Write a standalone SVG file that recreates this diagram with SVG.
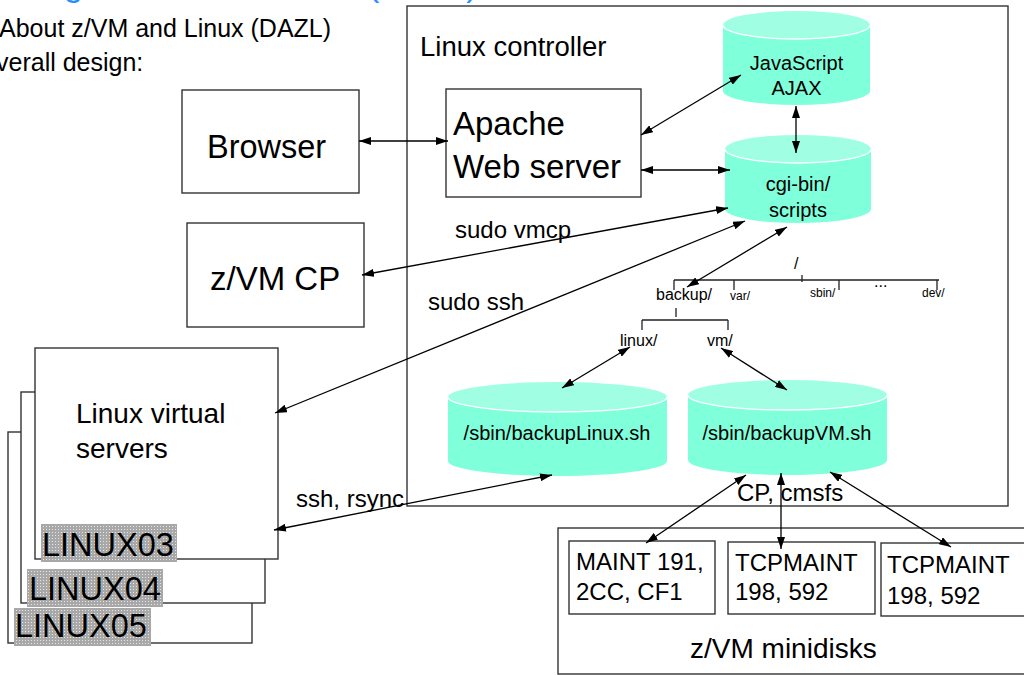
<svg xmlns="http://www.w3.org/2000/svg" width="1024" height="675" viewBox="0 0 1024 675">
<defs>
<style>
text{font-family:"Liberation Sans",Arial,Helvetica,sans-serif;fill:#000}
.box{fill:#fff;stroke:#333;stroke-width:1.4}
.frame{fill:none;stroke:#333;stroke-width:1.4}
.body{fill:#80ffdb}
.lid{fill:#a0ffe2}
.seam{fill:none;stroke:#fff;stroke-width:1.3}
.tree{fill:none;stroke:#222;stroke-width:1.3}
.conn{fill:none;stroke:#000;stroke-width:1.3;marker-start:url(#ah);marker-end:url(#ah)}
.mid{text-anchor:middle}
</style>
<marker id="ah" viewBox="0 0 12 8" refX="12" refY="4" markerWidth="12" markerHeight="8" markerUnits="userSpaceOnUse" orient="auto-start-reverse">
<path d="M0,0 L12,4 L0,8 z" fill="#000"/>
</marker>
<pattern id="dots" width="3" height="3" patternUnits="userSpaceOnUse">
<rect width="3" height="3" fill="#a8a8a8"/>
<rect x="1" y="1" width="1" height="1" fill="#e6e6e6"/>
</pattern>
</defs>

<g id="title">
<text y="-4" font-size="34" style="fill:#2a8cff"><tspan x="-4">Design overview</tspan><tspan x="368">(DAZL)</tspan></text>
<text x="-1" y="37" font-size="25">About z/VM and Linux (DAZL)</text>
<text x="-4" y="71" font-size="25">verall design:</text>
</g>

<g id="linux-controller">
<rect class="frame" x="407" y="6" width="601" height="500"/>
<text x="420" y="56" font-size="27.5">Linux controller</text>
</g>

<g id="browser">
<rect class="box" x="182" y="90" width="177" height="103"/>
<text x="207" y="158" font-size="32.5">Browser</text>
</g>

<g id="zvm-cp">
<rect class="box" x="187" y="223" width="177" height="104"/>
<text x="210" y="290" font-size="33">z/VM CP</text>
</g>

<g id="apache">
<rect class="box" x="446" y="89" width="195" height="108"/>
<text x="453" y="135" font-size="33">Apache</text>
<text x="453" y="178" font-size="33">Web server</text>
</g>

<g id="javascript-ajax">
<path class="body" d="M723,25 L723,91 A73.5,14 0 0 0 870,91 L870,25 Z"/>
<ellipse class="lid" cx="796.5" cy="25" rx="73.5" ry="14"/>
<path class="seam" d="M723,25 A73.5,14 0 0 0 870,25"/>
<text class="mid" x="796.5" y="70" font-size="20">JavaScript</text>
<text class="mid" x="796.5" y="95" font-size="20">AJAX</text>
</g>

<g id="cgi-bin">
<path class="body" d="M725,149 L725,209 A73,14 0 0 0 871,209 L871,149 Z"/>
<ellipse class="lid" cx="798" cy="149" rx="73" ry="14"/>
<path class="seam" d="M725,149 A73,14 0 0 0 871,149"/>
<text class="mid" x="798" y="191" font-size="20">cgi-bin/</text>
<text class="mid" x="798" y="217" font-size="20">scripts</text>
</g>

<g id="backup-linux">
<path class="body" d="M448,397 L448,461 A109.5,15 0 0 0 667,461 L667,397 Z"/>
<ellipse class="lid" cx="557.5" cy="397" rx="109.5" ry="15"/>
<path class="seam" d="M448,397 A109.5,15 0 0 0 667,397"/>
<text class="mid" x="557" y="440" font-size="20">/sbin/backupLinux.sh</text>
</g>

<g id="backup-vm">
<path class="body" d="M688,395 L688,460 A99.5,15 0 0 0 887,460 L887,395 Z"/>
<ellipse class="lid" cx="787.5" cy="395" rx="99.5" ry="15"/>
<path class="seam" d="M688,395 A99.5,15 0 0 0 887,395"/>
<text class="mid" x="787" y="440" font-size="20">/sbin/backupVM.sh</text>
</g>

<g id="filesystem-tree">
<path class="tree" d="M674,280 H939 M674,280 V290 M734,280 V290 M839,280 V290 M937,280 V290 M802,275 V282 M676,308 V317 M642,320 H728 M642,320 V330 M728,320 V330"/>
<text x="794" y="269" font-size="16">/</text>
<text x="656" y="300" font-size="16">backup/</text>
<text x="730" y="300" font-size="12">var/</text>
<text x="810" y="297" font-size="12">sbin/</text>
<text x="874" y="287" font-size="16">...</text>
<text x="922" y="297" font-size="12">dev/</text>
<text x="620" y="346" font-size="16">linux/</text>
<text x="707" y="346" font-size="16">vm/</text>
</g>

<g id="linux-virtual-servers">
<rect class="box" x="8" y="432" width="244" height="211"/>
<rect class="box" x="21" y="392" width="244" height="211"/>
<rect class="box" x="35" y="348" width="243" height="211"/>
<text x="76" y="423" font-size="28">Linux virtual</text>
<text x="76" y="458" font-size="28">servers</text>
<rect x="41" y="524" width="136" height="38" fill="url(#dots)"/>
<text x="42" y="556" font-size="32.5">LINUX03</text>
<rect x="27" y="569" width="136" height="38" fill="url(#dots)"/>
<text x="29" y="600" font-size="32.5">LINUX04</text>
<rect x="14" y="608" width="137" height="38" fill="url(#dots)"/>
<text x="15" y="637" font-size="32.5">LINUX05</text>
</g>

<g id="zvm-minidisks">
<rect class="box" x="558" y="528" width="480" height="146"/>
<text x="690" y="658" font-size="28">z/VM minidisks</text>
</g>

<g id="maint-191">
<rect class="box" x="569" y="541" width="146" height="73"/>
<text x="576" y="570" font-size="24">MAINT 191,</text>
<text x="576" y="600" font-size="24">2CC, CF1</text>
</g>

<g id="tcpmaint-1">
<rect class="box" x="728" y="542" width="147" height="72"/>
<text x="735" y="571" font-size="24">TCPMAINT</text>
<text x="735" y="600" font-size="24">198, 592</text>
</g>

<g id="tcpmaint-2">
<rect class="box" x="881" y="543" width="160" height="73"/>
<text x="887" y="573" font-size="24">TCPMAINT</text>
<text x="887" y="604" font-size="24">198, 592</text>
</g>

<g id="connectors">
<line class="conn" x1="359" y1="141" x2="448" y2="141"/>
<line class="conn" x1="641" y1="135" x2="741" y2="75"/>
<line class="conn" x1="641" y1="170" x2="730" y2="170"/>
<line class="conn" x1="796" y1="106" x2="796" y2="153"/>
<line class="conn" x1="362" y1="275" x2="728" y2="208"/>
<line class="conn" x1="275" y1="413" x2="745" y2="221"/>
<line class="conn" x1="787" y1="227" x2="687" y2="287"/>
<line class="conn" x1="630" y1="347" x2="562" y2="388"/>
<line class="conn" x1="721" y1="348" x2="787" y2="390"/>
<line class="conn" x1="552" y1="475" x2="274" y2="530"/>
<line class="conn" x1="746" y1="475" x2="646" y2="543"/>
<line class="conn" x1="781" y1="473" x2="781" y2="549"/>
<line class="conn" x1="830" y1="472" x2="951" y2="547"/>
<text x="455" y="238" font-size="24">sudo vmcp</text>
<text x="428" y="310" font-size="24">sudo ssh</text>
<text x="296" y="507" font-size="24">ssh, rsync</text>
<text x="737" y="501" font-size="24">CP, cmsfs</text>
</g>
</svg>
